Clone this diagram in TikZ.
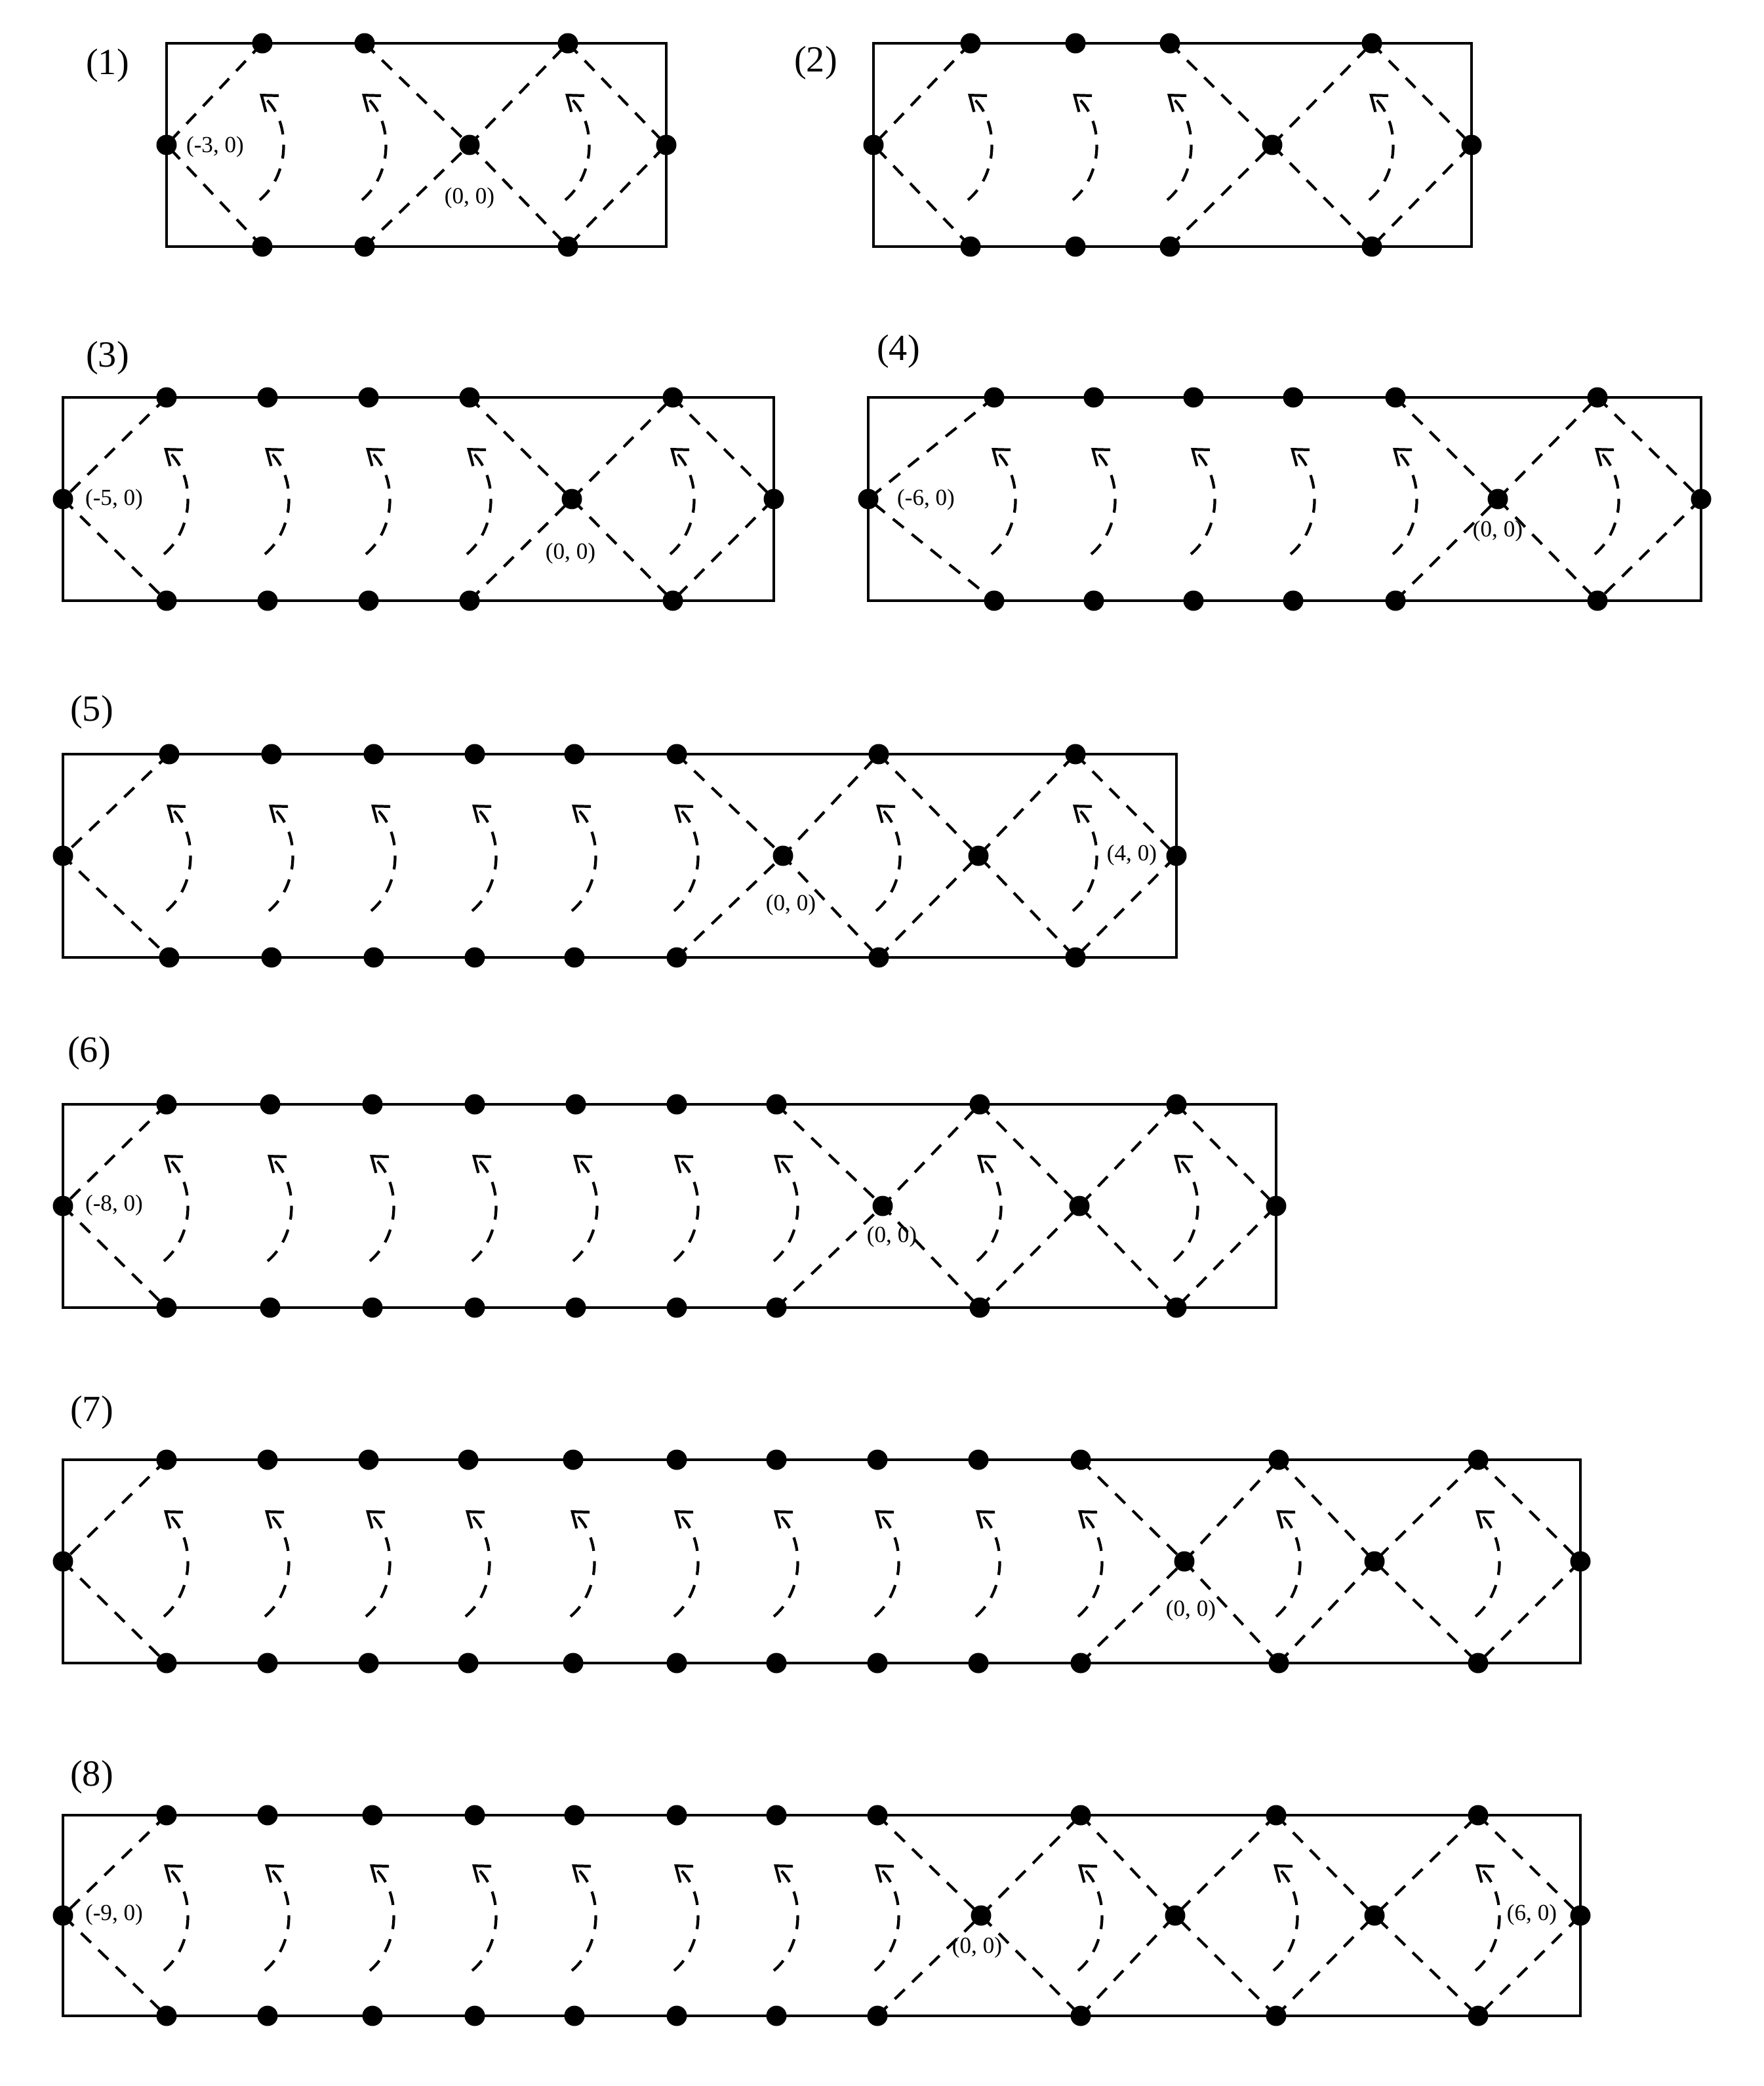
\documentclass[tikz,border=0pt]{standalone}
\usepackage{fontspec}
\setmainfont{Liberation Serif}
\usetikzlibrary{arrows.meta}
\tikzset{
  dot/.style={circle,fill=black,inner sep=0pt,minimum size=0.31cm},
  frame/.style={line width=1.2pt},
  dl/.style={line width=1.2pt,dash pattern=on 6pt off 4.5pt},
  arr/.style={line width=1.2pt,dash pattern=on 6pt off 4.5pt,-{Straight Barb[length=6pt,width=9pt]}},
  plab/.style={font=\fontsize{16}{16}\selectfont},
  clab/.style={font=\fontsize{10}{10}\selectfont,inner sep=1pt}
}
% #1 left x, #2 right x, #3 top y, #4 bottom y, #5 top dot xs, #6 crosses c/a/b, #7 first top, #8 last top, #9 id
\newcommand\mypanel[9]{%
  \pgfmathsetmacro\ym{(#3+#4)/2}%
  \draw[frame] (#1,#3) rectangle (#2,#4);
  \node[dot] (#9L) at (#1,\ym) {};
  \node[dot] (#9R) at (#2,\ym) {};
  \foreach \x [count=\i] in {#5} {
    \node[dot] (#9t\i) at (\x,#3) {};
    \node[dot] (#9b\i) at (\x,#4) {};
    \draw[arr] (\x-2,\ym+42) .. controls (\x+22,\ym+22) and (\x+22,\ym-20) .. (\x-2,\ym-39);
  }
  \coordinate (#9ft) at (#7,#3); \coordinate (#9fb) at (#7,#4);
  \coordinate (#9lt) at (#8,#3); \coordinate (#9lb) at (#8,#4);
  \draw[dl] (#9ft) -- (#9L.center) -- (#9fb);
  \draw[dl] (#9lt) -- (#9R.center) -- (#9lb);
  \foreach \c/\a/\b [count=\j] in {#6} {
    \node[dot] (#9c\j) at (\c,\ym) {};
    \draw[dl] (\a,#3) -- (#9c\j.center) -- (\b,#4);
    \draw[dl] (\a,#4) -- (#9c\j.center) -- (\b,#3);
  }
}
\begin{document}
\begin{tikzpicture}[x=0.02cm,y=-0.02cm]
\useasboundingbox (0,0) rectangle (1344.5,1590.5);
% (1)
\node[plab] (p1) at (82,50) {(1)};
\mypanel{127}{508}{33}{188}{200,278,433}{358/278/433}{200}{433}{A}
\node[clab] (A1) at (164,112) {(-3, 0)};
\node[clab] (A2) at (358,151) {(0, 0)};
% (2)
\node[plab] (p2) at (622,48) {(2)};
\mypanel{666}{1122}{33}{188}{740,820,892,1046}{970/892/1046}{740}{1046}{B}
% (3)
\node[plab] (p3) at (82,273) {(3)};
\mypanel{48}{590}{303}{458}{127,204,281,358,513}{436/358/513}{127}{513}{C}
\node[clab] (C1) at (87,381) {(-5, 0)};
\node[clab] (C2) at (435,422) {(0, 0)};
% (4)
\node[plab] (p4) at (685,268) {(4)};
\mypanel{662}{1297}{303}{458}{758,834,910,986,1064,1218}{1142/1064/1218}{758}{1218}{D}
\node[clab] (D1) at (706,381) {(-6, 0)};
\node[clab] (D2) at (1142,405) {(0, 0)};
% (5)
\node[plab] (p5) at (70,543) {(5)};
\mypanel{48}{897}{575}{730}{129,207,285,362,438,516,670,820}{597/516/670,746/670/820}{129}{820}{E}
\node[clab] (E1) at (603,690) {(0, 0)};
\node[clab] (E2) at (863,652) {(4, 0)};
% (6)
\node[plab] (p6) at (68,803) {(6)};
\mypanel{48}{973}{842}{997}{127,206,284,362,439,516,592,747,897}{673/592/747,823/747/897}{127}{897}{F}
\node[clab] (F1) at (87,919) {(-8, 0)};
\node[clab] (F2) at (680,943) {(0, 0)};
% (7)
\node[plab] (p7) at (70,1077) {(7)};
\mypanel{48}{1205}{1113}{1268}{127,204,281,357,437,516,592,669,746,824,975,1127}{903/824/975,1048/975/1127}{127}{1127}{G}
\node[clab] (G1) at (908,1228) {(0, 0)};
% (8)
\node[plab] (p8) at (70,1355) {(8)};
\mypanel{48}{1205}{1384}{1537}{127,204,284,362,438,516,592,669,824,973,1127}{748/669/824,896/824/973,1048/973/1127}{127}{1127}{H}
\node[clab] (H1) at (87,1460) {(-9, 0)};
\node[clab] (H2) at (745,1485) {(0, 0)};
\node[clab] (H3) at (1168,1460) {(6, 0)};
\end{tikzpicture}
\end{document}
